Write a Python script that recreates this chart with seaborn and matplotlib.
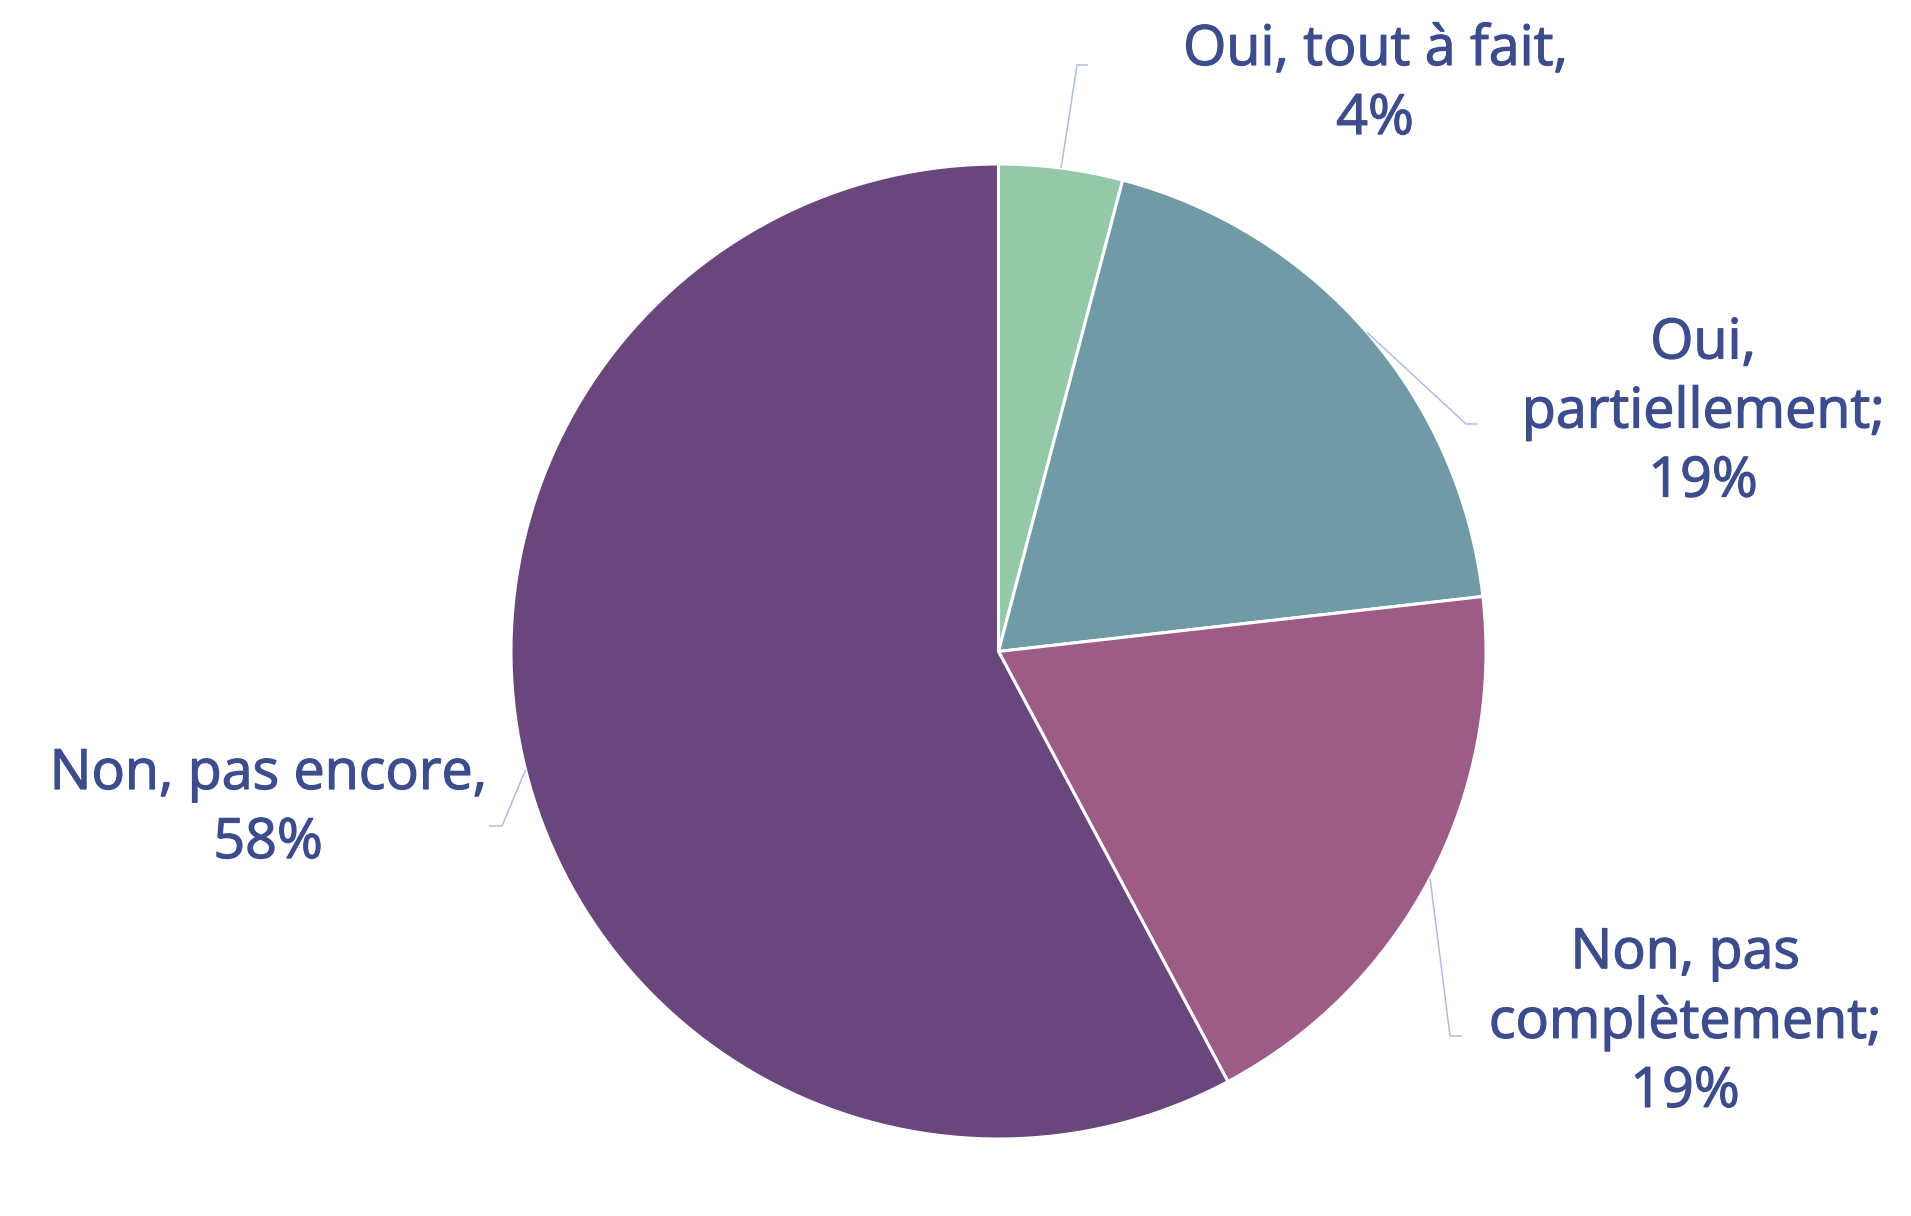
import numpy as np
import matplotlib
matplotlib.use("Agg")
import matplotlib.pyplot as plt
import matplotlib.patheffects as pe
import seaborn as sns

# data
categories = ["Oui, tout à fait,", "Oui,\npartiellement;", "Non, pas\ncomplètement;", "Non, pas encore,"]
values = [4.1, 19.1, 19.0, 57.8]
labels_pct = [4, 19, 19, 58]
colors = ["#93C9A8", "#6F9AA6", "#9D5C85", "#69477D"]

# layout (pixel coords, y from top)
W, H = 1911, 1216
center_px = (998.5, 651.5)
radius = 487.5
label_pos = [(1375, 85), (1703, 413), (1685, 1023), (268, 809)]
bend_pos = [(1077, 65), (1466, 424), (1450, 1036), (502, 826)]
end_dx = [11, 12, 12, -13]

sns.set_theme(style="white")
plt.rcParams["font.family"] = ["Open Sans", "DejaVu Sans"]

text_color = "#3D4C8C"
line_color = "#B3BCE0"

fig = plt.figure(figsize=(W / 100, H / 100), dpi=100)
ax = fig.add_axes([0, 0, 1, 1])

cx, cy = center_px[0], H - center_px[1]
wedges, _ = ax.pie(values, colors=colors, startangle=90, counterclock=False,
                   center=(cx, cy), radius=radius, frame=True,
                   wedgeprops=dict(edgecolor="white", linewidth=2.2))
ax.set_xlim(0, W)
ax.set_ylim(0, H)
ax.set_aspect("equal")
ax.axis("off")

# slightly heavier than regular, closer to the medium weight of the original
medium = [pe.withStroke(linewidth=0.9, foreground=text_color)]

for w, cat, pct, (lx, ly), (bx, by), ddx in zip(wedges, categories, labels_pct, label_pos, bend_pos, end_dx):
    mid = np.deg2rad((w.theta1 + w.theta2) / 2)
    sx = cx + radius * np.cos(mid)
    sy = cy + radius * np.sin(mid)
    ax.plot([sx, bx, bx + ddx], [sy, H - by, H - by], color=line_color, lw=1.1,
            solid_capstyle="butt")
    ax.text(lx, H - ly, f"{cat}\n{pct}%", ha="center", va="center",
            fontsize=40, color=text_color, linespacing=1.28, path_effects=medium)

fig.savefig("out.png", dpi=100, facecolor="white")
